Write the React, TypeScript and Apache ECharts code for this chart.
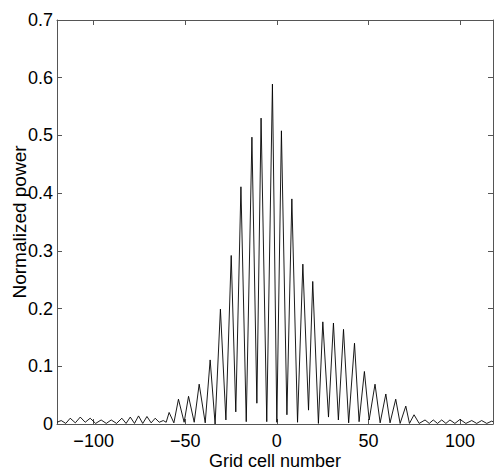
import React, { useEffect, useRef } from "react";
import * as echarts from "echarts";

// Grid cell positions of the curve's peaks and troughs
const cellNumbers: number[] = [
  -120, -117.7, -115.2, -112.8, -110, -107.3, -104.6, -101.9, -98.9, -95.9,
  -93.1, -90.4, -87.5, -84.6, -82.3, -80, -77.7, -75.5, -73.2, -70.9,
  -68.6, -66.4, -64.2, -62, -60.4, -58.8, -56.2, -53.7, -50.6, -48.2,
  -45.1, -42.4, -39.1, -36.4, -33.7, -30.8, -27.8, -24.9, -22.4, -19.6,
  -16.7, -13.6, -10.9, -8.6, -5.5, -2.4, 0, 2.5, 5.5, 8.2,
  11.3, 14.2, 17.3, 19.6, 22.7, 25.1, 28.2, 30.9, 33.6, 36.4,
  39.2, 42.4, 44.9, 47.8, 50.4, 53.6, 56.4, 59.5, 61.8, 64.9,
  67.3, 70.4, 72.4, 74.9, 77.7, 80.9, 83.2, 85.4, 87.7, 90,
  92.3, 94.5, 97.2, 100, 103.2, 106.4, 109.1, 111.8, 114.6, 117.3,
  118,
];

const normalizedPower: number[] = [
  0.003, 0.006, 0.001, 0.010, 0.002, 0.012, 0.003, 0.010, 0.001, 0.007,
  0.001, 0.007, 0.001, 0.010, 0.001, 0.012, 0.001, 0.014, 0.001, 0.013,
  0.002, 0.010, 0.003, 0.006, 0.003, 0.020, 0.002, 0.043, 0.003, 0.048,
  0.003, 0.069, 0.002, 0.111, 0.0, 0.199, 0.007, 0.292, 0.021, 0.411,
  0.004, 0.497, 0.036, 0.530, 0.004, 0.589, 0.003, 0.508, 0.016, 0.390,
  0.003, 0.277, 0.024, 0.247, 0.001, 0.177, 0.012, 0.175, 0.007, 0.164,
  0.002, 0.140, 0.004, 0.091, 0.007, 0.069, 0.002, 0.052, 0.002, 0.043,
  0.001, 0.031, 0.001, 0.016, 0.001, 0.007, 0.001, 0.007, 0.001, 0.007,
  0.001, 0.007, 0.001, 0.008, 0.001, 0.006, 0.001, 0.006, 0.001, 0.005,
  0.004,
];

const xTicks: number[] = [-100, -50, 0, 50, 100];
const xMin = -120;
const xMax = 118;
const yMin = 0;
const yMax = 0.7;
const yStep = 0.1;

const FONT = "'Liberation Sans', Arial, Helvetica, sans-serif";
const AXIS_COLOR = "#555";

export default function App() {
  const ref = useRef<HTMLDivElement>(null);

  useEffect(() => {
    if (!ref.current) return;
    const chart = echarts.init(ref.current, undefined, { renderer: "svg" });
    const data = cellNumbers.map((x, i) => [x, normalizedPower[i]]);

    const tickStyle = { lineStyle: { color: AXIS_COLOR, width: 1 } };
    const axisLine = { show: true, onZero: false, lineStyle: { color: AXIS_COLOR, width: 1 } };

    chart.setOption({
      animation: false,
      backgroundColor: "#fff",
      grid: {
        left: 57,
        right: 2,
        top: 20,
        bottom: 46,
        containLabel: false,
        outerBoundsMode: "none",
      },
      xAxis: [
        {
          type: "value",
          min: xMin,
          max: xMax,
          position: "bottom",
          name: "Grid cell number",
          nameLocation: "middle",
          nameGap: 28,
          nameMoveOverlap: false,
          nameTextStyle: { fontFamily: FONT, fontSize: 18, color: "#000" },
          axisLine,
          axisTick: {
            show: true,
            inside: true,
            length: 5,
            customValues: xTicks,
            ...tickStyle,
          },
          axisLabel: {
            show: true,
            customValues: xTicks,
            fontFamily: FONT,
            fontSize: 18,
            color: "#000",
            margin: 8,
            formatter: (v: number) => (v < 0 ? "\u2212" + Math.abs(v) : String(v)),
          },
          splitLine: { show: false },
        },
        {
          type: "value",
          min: xMin,
          max: xMax,
          position: "top",
          axisLine,
          axisTick: {
            show: true,
            inside: true,
            length: 5,
            customValues: xTicks,
            ...tickStyle,
          },
          axisLabel: { show: false },
          splitLine: { show: false },
        },
      ],
      yAxis: [
        {
          type: "value",
          min: yMin,
          max: yMax,
          interval: yStep,
          position: "left",
          name: "Normalized power",
          nameLocation: "middle",
          nameGap: 28,
          nameMoveOverlap: false,
          nameTextStyle: { fontFamily: FONT, fontSize: 19, color: "#000" },
          axisLine,
          axisTick: { show: true, inside: true, length: 5, ...tickStyle },
          axisLabel: {
            show: true,
            fontFamily: FONT,
            fontSize: 18,
            color: "#000",
            margin: 4,
            formatter: (v: number) => (v === 0 ? "0" : v.toFixed(1)),
          },
          splitLine: { show: false },
        },
        {
          type: "value",
          min: yMin,
          max: yMax,
          interval: yStep,
          position: "right",
          axisLine,
          axisTick: { show: true, inside: true, length: 5, ...tickStyle },
          axisLabel: { show: false },
          splitLine: { show: false },
        },
      ],
      series: [
        {
          type: "line",
          data,
          xAxisIndex: 0,
          yAxisIndex: 0,
          showSymbol: false,
          symbol: "none",
          smooth: false,
          lineStyle: { color: "#000", width: 0.9 },
          clip: true,
        },
      ],
    });

    return () => {
      chart.dispose();
    };
  }, []);

  return (
    <div
      ref={ref}
      style={{ position: "fixed", left: 0, top: 0, width: 495, height: 470, background: "#fff" }}
    />
  );
}
